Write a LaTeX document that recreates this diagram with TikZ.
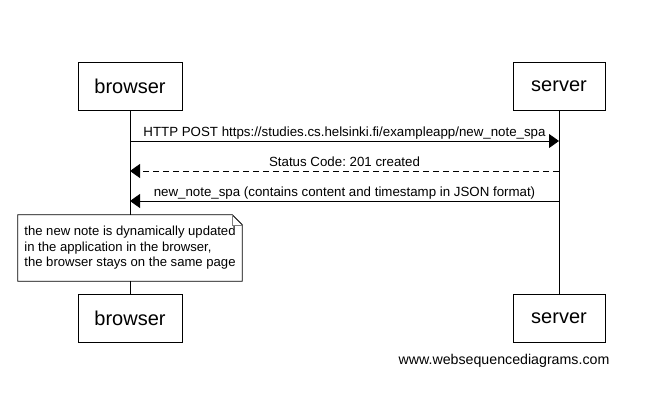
\documentclass[tikz,border=0pt]{standalone}
\usepackage{fontspec}
\setmainfont{Liberation Sans}
\usetikzlibrary{arrows.meta}
\frenchspacing

\begin{document}
\begin{tikzpicture}[x=1pt,y=-1pt]
        \tikzstyle{actor}=[rectangle,draw=black,line width=0.8pt,fill=white,minimum height=48pt,font=\fontsize{20}{24}\selectfont]
        \tikzstyle{life}=[draw,line width=0.8pt]
        \tikzstyle{msg}=[draw,line width=0.8pt,-{Triangle[length=10pt,width=14pt]}]
        \tikzstyle{reply}=[msg,dash pattern=on 6pt off 4pt]
        \tikzstyle{txt}=[font=\fontsize{13.3}{15.5}\selectfont,anchor=base,yshift=4.5pt,inner sep=0pt]
        \tikzstyle{note}=[rectangle,fill=white,align=left,inner xsep=6.5pt,minimum height=66pt,font=\fontsize{13.1}{15.5}\selectfont]
        \useasboundingbox (0,0) rectangle (656,404);
       \begin{scope}
         \node [actor,minimum width=104pt] (browser1) at (130,86) {browser};
         \node [actor,minimum width=92pt] (server1) at (559,86) {server};
         \node [actor,minimum width=104pt] (browser2) at (130,318) {browser};
         \node [actor,minimum width=92pt] (server2) at (559,318) {server};
         \path[life] (browser1) -- (browser2);
         \path[life] (server1) -- (server2);
         \coordinate (b1) at (130,141);
         \coordinate (s1) at (559,141);
         \coordinate (b2) at (130,171);
         \coordinate (s2) at (559,171);
         \coordinate (b3) at (130,201);
         \coordinate (s3) at (559,201);
         \path[msg] (b1) -- node[txt] {HTTP POST https://studies.cs.helsinki.fi/exampleapp/new\_note\_spa} (s1);
         \path[reply] (s2) -- node[txt] {Status Code: 201 created} (b2);
         \path[msg] (s3) -- node[txt] {new\_note\_spa (contains content and timestamp in JSON format)} (b3);
         \node [note] (note) at (130,248) {the new note is dynamically updated\\in the application in the browser,\\the browser stays on the same page};
         \draw[line width=0.8pt] (note.north west) -- ([xshift=-10pt]note.north east) -- ([yshift=-10pt]note.north east) -- (note.south east) -- (note.south west) -- cycle;
         \draw[line width=0.6pt,draw=black!50] ([xshift=-10pt]note.north east) -- ([xshift=-10pt,yshift=-10pt]note.north east) -- ([yshift=-10pt]note.north east);
         \node [font=\fontsize{14.2}{17}\selectfont] (footer) at (504,361) {www.websequencediagrams.com};
        \end{scope}
      \end{tikzpicture}
\end{document}
